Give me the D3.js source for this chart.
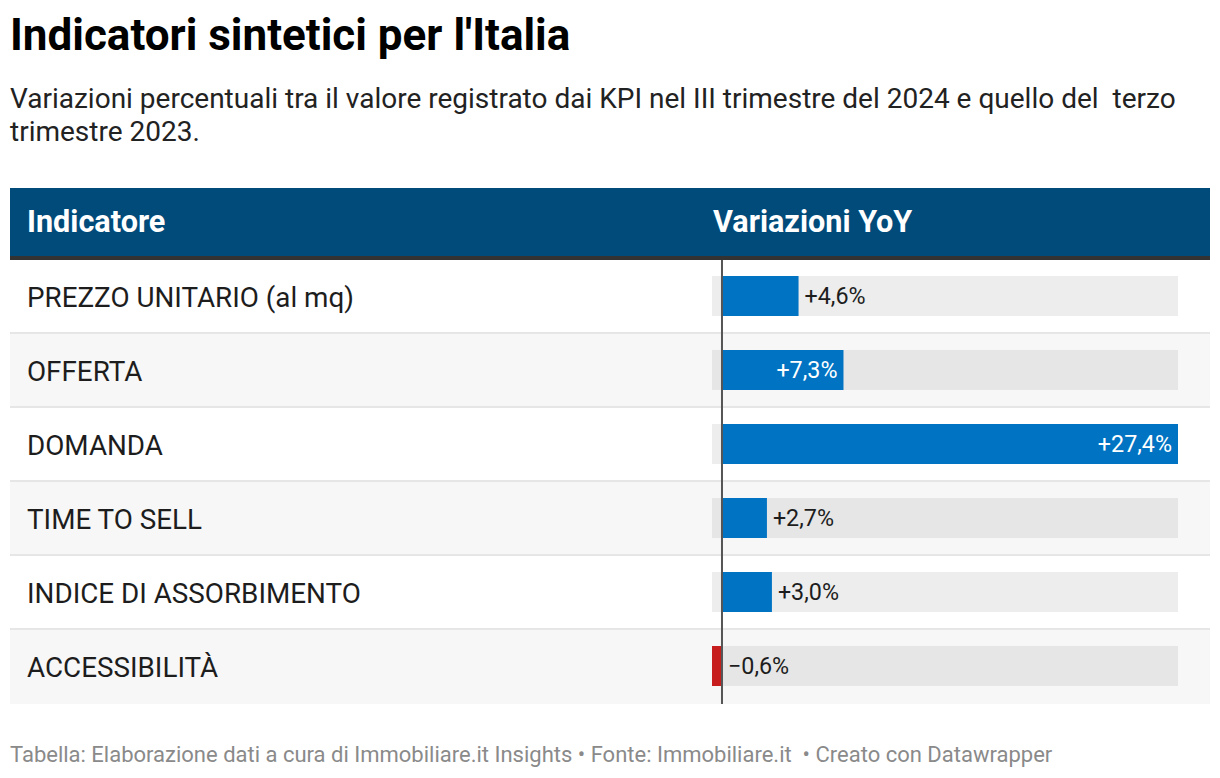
<!DOCTYPE html>
<html>
<head>
<meta charset="utf-8">
<script src="https://cdn.jsdelivr.net/npm/d3@7"></script>
<style>
  html, body { margin: 0; padding: 0; background: #fff; }
  svg { display: block; font-family: Roboto, "Noto Sans", sans-serif; }
  text { white-space: pre; }
</style>
</head>
<body>
<svg id="chart" width="1220" height="778"></svg>
<script>
// ---- data ----
const categories = [
  "PREZZO UNITARIO (al mq)",
  "OFFERTA",
  "DOMANDA",
  "TIME TO SELL",
  "INDICE DI ASSORBIMENTO",
  "ACCESSIBILITÀ"
];
const values = [4.6, 7.3, 27.4, 2.7, 3.0, -0.6];
const columnHeaders = ["Indicatore", "Variazioni YoY"];
const titleText = "Indicatori sintetici per l'Italia";
const subtitleLines = [
  "Variazioni percentuali tra il valore registrato dai KPI nel III trimestre del 2024 e quello del  terzo",
  "trimestre 2023."
];
const footerText = "Tabella: Elaborazione dati a cura di Immobiliare.it Insights \u2022 Fonte: Immobiliare.it  \u2022 Creato con Datawrapper";

// ---- layout ----
const svg = d3.select("#chart");
const tableLeft = 10, tableRight = 1210;
const headerTop = 188, headerBottom = 256, borderH = 4;
const rowTop = headerBottom + borderH; // 260
const rowH = 74;
const barH = 40;
const barY = 16;

const fmt = v => (v > 0 ? "+" : "\u2212") + d3.format(".1f")(Math.abs(v)).replace(".", ",") + "%";

// title
svg.append("text")
  .attr("x", 10).attr("y", 50)
  .attr("font-size", 44).attr("font-weight", 700).attr("fill", "#000")
  .text(titleText);

svg.append("g").selectAll("text").data(subtitleLines).join("text")
  .attr("x", 10).attr("y", (d, i) => 108 + i * 33)
  .attr("font-size", 28).attr("fill", "#222")
  .text(d => d);

// header
svg.append("rect").attr("x", tableLeft).attr("y", headerTop)
  .attr("width", tableRight - tableLeft).attr("height", headerBottom - headerTop)
  .attr("fill", "#014b7b");
svg.append("rect").attr("x", tableLeft).attr("y", headerBottom)
  .attr("width", tableRight - tableLeft).attr("height", borderH)
  .attr("fill", "#333333");

const x = d3.scaleLinear().domain([d3.min(values), d3.max(values)]).range([712, 1178]);

svg.append("g").selectAll("text").data(columnHeaders).join("text")
  .attr("x", (d, i) => i === 0 ? 27 : 713)
  .attr("y", 232)
  .attr("font-size", 30.6).attr("font-weight", 700).attr("fill", "#fff")
  .text(d => d);

const y = d3.scaleBand().domain(categories).range([rowTop, rowTop + rowH * categories.length]);

const rows = svg.append("g").selectAll("g").data(categories).join("g")
  .attr("transform", d => `translate(0,${y(d)})`);

rows.append("rect")
  .attr("x", tableLeft).attr("y", 0)
  .attr("width", tableRight - tableLeft).attr("height", rowH)
  .attr("fill", (d, i) => i % 2 ? "#f7f7f7" : "#ffffff");

rows.filter((d, i) => i < categories.length - 1).append("rect")
  .attr("x", tableLeft).attr("y", rowH - 2)
  .attr("width", tableRight - tableLeft).attr("height", 2)
  .attr("fill", "#e6e6e6");

rows.append("text")
  .attr("x", 27).attr("y", rowH / 2 + 10)
  .attr("font-size", 27.8).attr("fill", "#1d1d1d")
  .text(d => d);

// bar background
rows.append("rect")
  .attr("x", x.range()[0]).attr("y", barY)
  .attr("width", x.range()[1] - x.range()[0]).attr("height", barH)
  .attr("fill", (d, i) => i % 2 ? "#e6e6e6" : "#ededed");

rows.append("rect")
  .attr("x", (d, i) => Math.min(x(0), x(values[i])))
  .attr("y", barY)
  .attr("width", (d, i) => Math.abs(x(values[i]) - x(0)))
  .attr("height", barH)
  .attr("fill", (d, i) => values[i] < 0 ? "#c71e1d" : "#0073c3");

rows.append("text")
  .attr("y", barY + barH / 2 + 8)
  .attr("font-size", 23.3)
  .each(function(d, i) {
    const v = values[i];
    const w = Math.abs(x(v) - x(0));
    const inside = v > 0 && w > 100;
    const t = d3.select(this).text(fmt(v));
    if (inside) {
      t.attr("x", x(v) - 6).attr("text-anchor", "end").attr("fill", "#fff");
    } else if (v > 0) {
      t.attr("x", x(v) + 6).attr("text-anchor", "start").attr("fill", "#1d1d1d");
    } else {
      t.attr("x", x(0) + 6).attr("text-anchor", "start").attr("fill", "#1d1d1d");
    }
  });

// zero line
svg.append("line")
  .attr("x1", x(0)).attr("x2", x(0))
  .attr("y1", rowTop).attr("y2", rowTop + rowH * categories.length)
  .attr("stroke", "#555").attr("stroke-width", 2);

// footer
svg.append("text")
  .attr("x", 10).attr("y", 762)
  .attr("font-size", 22).attr("fill", "#8a8a8a")
  .text(footerText);
</script>
</body>
</html>
